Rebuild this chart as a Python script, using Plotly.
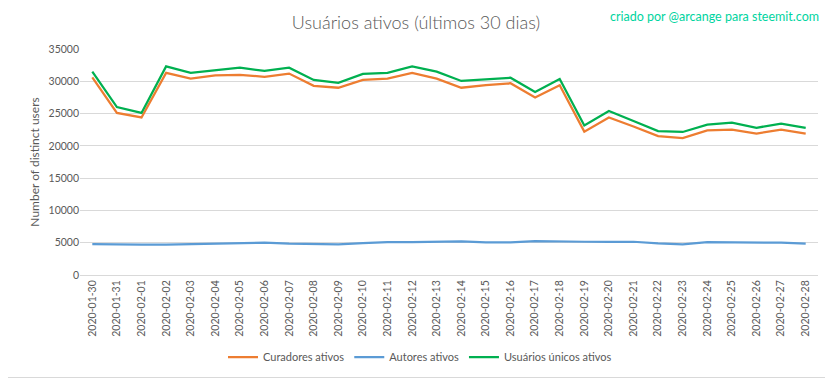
import plotly.graph_objects as go

dates = ["2020-01-30", "2020-01-31"] + ["2020-02-%02d" % d for d in range(1, 29)]

curadores = [30600, 25100, 24400, 31300, 30400, 30900, 31000, 30700, 31200, 29300,
             29000, 30200, 30400, 31300, 30400, 29000, 29400, 29700, 27500, 29400,
             22200, 24400, 23000, 21500, 21200, 22400, 22500, 21900, 22500, 21900]
autores = [4800, 4700, 4700, 4700, 4800, 4850, 5000, 5000, 4850, 4750,
           4750, 4950, 5100, 5100, 5100, 5200, 5050, 5050, 5250, 5150,
           5150, 5150, 5150, 4900, 4750, 5100, 5100, 5000, 5000, 4850]
unicos = [31500, 26000, 25100, 32300, 31300, 31750, 32100, 31600, 32100, 30200,
          29750, 31150, 31300, 32300, 31500, 30050, 30300, 30550, 28350, 30350,
          23150, 25400, 23850, 22300, 22150, 23300, 23600, 22800, 23450, 22800]

series = [
    ("Curadores ativos", curadores, "#ed7d31"),
    ("Autores ativos", autores, "#5b9bd5"),
    ("Usuários únicos ativos", unicos, "#00b050"),
]

FONT = "Lato, Open Sans, sans-serif"
GRAY = "#595959"

fig = go.Figure()
for name, vals, color in series:
    fig.add_trace(go.Scatter(x=dates, y=vals, name=name, mode="lines",
                             line=dict(color=color, width=2.25)))

# the page body has an 8px margin: work in figure coords = screen - 8
OFF = 8
W, H = 833, 379
ml, mt = 80 - OFF, 49 - OFF
mr = W - (818 - OFF)
mb = H - (275 - OFF)
pw, ph = W - ml - mr, H - mt - mb

def px(xs):
    return (xs - OFF - ml) / pw

def py(ys):
    return 1 - (ys - OFF - mt) / ph

fig.update_layout(
    width=W, height=H,
    margin=dict(l=ml, r=mr, t=mt, b=mb),
    paper_bgcolor="white", plot_bgcolor="white",
    font=dict(family=FONT, color=GRAY),
    title=dict(text="Usuários ativos (últimos 30 dias)", x=(416 - OFF) / W,
               xanchor="center", y=1 - (23 - OFF) / H, yanchor="middle",
               font=dict(family=FONT, size=18, color=GRAY, weight=300)),
    showlegend=True,
    legend=dict(orientation="h", x=px(420), xanchor="center", y=py(357), yanchor="middle",
                font=dict(size=11, color=GRAY), itemwidth=30, bgcolor="rgba(0,0,0,0)"),
    xaxis=dict(type="category", tickangle=-90, tickfont=dict(size=10.5, color=GRAY),
               showgrid=False, showline=True, linecolor="#d9d9d9", linewidth=1,
               ticks="", range=[-0.5, len(dates) - 0.5], zeroline=False),
    yaxis=dict(range=[0, 35000], dtick=5000, tickfont=dict(size=10.5, color=GRAY),
               gridcolor="#d9d9d9", gridwidth=1, zeroline=False, showline=False,
               tickformat="d",
               title=dict(text="Number of distinct users", font=dict(size=12, color=GRAY),
                          standoff=6)),
    annotations=[dict(text="criado por @arcange para steemit.com", xref="paper", yref="paper",
                      x=px(821), y=py(16), xanchor="right", yanchor="middle",
                      showarrow=False, font=dict(family=FONT, size=12.5, color="#00d4a0"))],
    shapes=[
        dict(type="line", xref="paper", yref="paper", x0=px(829.5), x1=px(829.5),
             y0=py(8), y1=py(377.5), line=dict(color="#d9d9d9", width=1), layer="below"),
        dict(type="line", xref="paper", yref="paper", x0=px(8), x1=px(829.5),
             y0=py(377.5), y1=py(377.5), line=dict(color="#d9d9d9", width=1), layer="below"),
    ],
)

fig.write_html("out.html")
